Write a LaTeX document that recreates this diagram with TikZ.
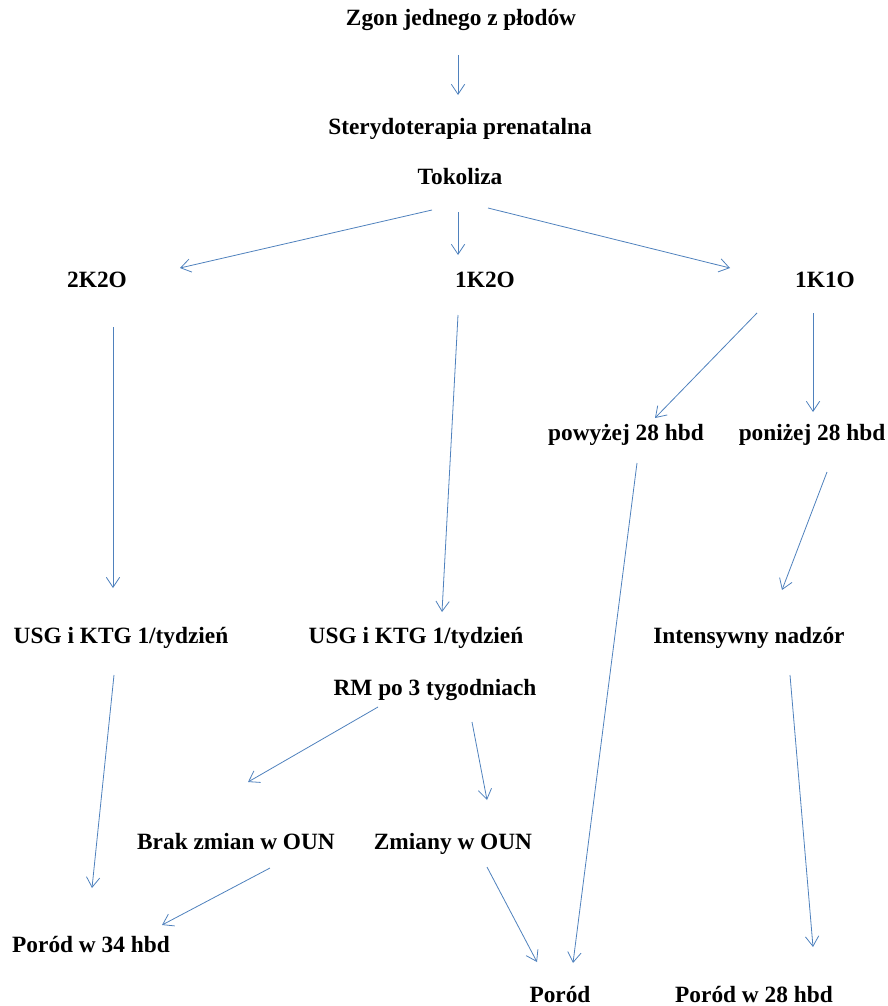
\documentclass[tikz,border=0pt]{standalone}
\usepackage{fontspec}
\setmainfont{Liberation Serif}
\usetikzlibrary{arrows.meta,calc}

\definecolor{flowblue}{RGB}{79,129,189}

\begin{document}
\begin{tikzpicture}[
        x=0.75pt, y=-0.75pt,
        >={Straight Barb[length=7.5pt,width=10pt]},
        lbl/.style={anchor=base, inner sep=0pt, font=\fontsize{17.5}{21}\selectfont\bfseries},
        arrow/.style={->, flowblue, line width=0.6pt}
    ]
        \useasboundingbox (0,0) rectangle (888,1006);

        % Top chain
        \node (zgon) [lbl] at (461,26) {Zgon jednego z płodów};
        \node (ster) [lbl] at (460,134) {Sterydoterapia prenatalna};
        \node (tok) [lbl] at (460,184) {Tokoliza};

        % Three groups
        \node (k22) [lbl] at (97,287) {2K2O};
        \node (k12) [lbl] at (485,287) {1K2O};
        \node (k11) [lbl] at (825,287) {1K1O};

        % 1K1O split
        \node (pow) [lbl] at (626,440) {powyżej 28 hbd};
        \node (pon) [lbl] at (812,440) {poniżej 28 hbd};

        % Monitoring
        \node (usgA) [lbl] at (121,643) {USG i KTG 1/tydzień};
        \node (usgB) [lbl] at (416,643) {USG i KTG 1/tydzień};
        \node (intens) [lbl] at (749,643) {Intensywny nadzór};
        \node (rm) [lbl] at (435,695) {RM po 3 tygodniach};

        % OUN
        \node (brak) [lbl] at (236,849) {Brak zmian w OUN};
        \node (zmiany) [lbl] at (453,849) {Zmiany w OUN};

        % Delivery
        \node (porod34) [lbl] at (91,952) {Poród w 34 hbd};
        \node (porod) [lbl] at (560,1002) {Poród};
        \node (porod28) [lbl] at (754,1002) {Poród w 28 hbd};

        % Arrows
        \draw[arrow] ($(zgon.base)+(-3,29)$) -- ($(ster.base)+(-2,-39)$);
        \draw[arrow] ($(tok.base)+(-28,26)$) -- ($(k22.base)+(83,-19)$);
        \draw[arrow] ($(tok.base)+(-2,28)$) -- ($(k12.base)+(-27,-32)$);
        \draw[arrow] ($(tok.base)+(28,24)$) -- ($(k11.base)+(-95,-19)$);
        \draw[arrow] ($(k22.base)+(16,40)$) -- ($(usgA.base)+(-8,-55)$);
        \draw[arrow] ($(k12.base)+(-27,28)$) -- ($(usgB.base)+(26,-31)$);
        \draw[arrow] ($(k11.base)+(-68,26)$) -- ($(pow.base)+(29,-22)$);
        \draw[arrow] ($(k11.base)+(-12,26)$) -- ($(pon.base)+(1,-28)$);
        \draw[arrow] ($(usgA.base)+(-7,32)$) -- ($(porod34.base)+(1,-64)$);
        \draw[arrow] ($(pow.base)+(11,23)$) -- ($(porod.base)+(13,-39)$);
        \draw[arrow] ($(pon.base)+(15,32)$) -- ($(intens.base)+(33,-53)$);
        \draw[arrow] ($(rm.base)+(-57,12)$) -- ($(brak.base)+(12,-67)$);
        \draw[arrow] ($(rm.base)+(37,27)$) -- ($(zmiany.base)+(34,-49)$);
        \draw[arrow] ($(brak.base)+(34,19)$) -- ($(porod34.base)+(71,-27)$);
        \draw[arrow] ($(zmiany.base)+(34,18)$) -- ($(porod.base)+(-23,-40)$);
        \draw[arrow] ($(intens.base)+(41,32)$) -- ($(porod28.base)+(59,-55)$);
    \end{tikzpicture}
\end{document}
